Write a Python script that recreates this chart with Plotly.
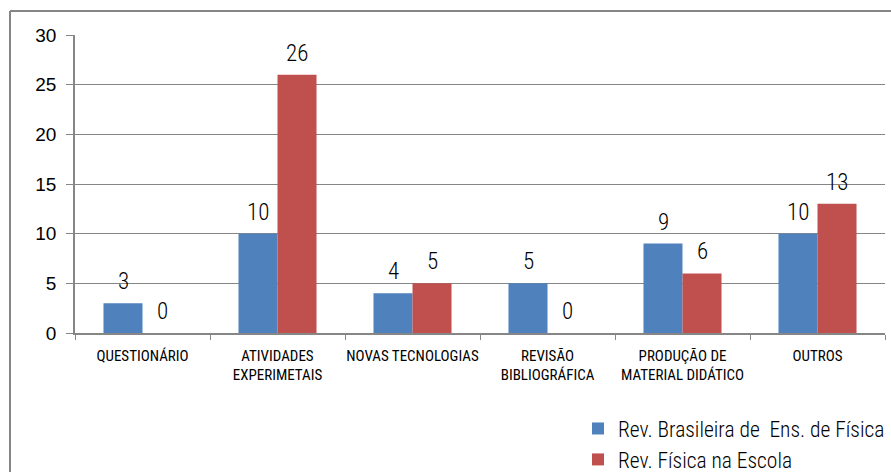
import plotly.graph_objects as go

# Categories and counts per journal
categories = [
    "QUESTIONÁRIO",
    "ATIVIDADES<br>EXPERIMETAIS",
    "NOVAS TECNOLOGIAS",
    "REVISÃO<br>BIBLIOGRÁFICA",
    "PRODUÇÃO DE<br>MATERIAL DIDÁTICO",
    "OUTROS",
]
rbef_counts = [3, 10, 4, 5, 9, 10]
fne_counts = [0, 26, 5, 0, 6, 13]
series_names = ["Rev. Brasileira de  Ens. de Física", "Rev. Física na Escola"]
series_colors = ["#4F81BD", "#C0504D"]
y_ticks = [0, 5, 10, 15, 20, 25, 30]

NARROW = "Liberation Sans Narrow, Arial Narrow, Roboto Condensed, sans-serif"
REGULAR = "Liberation Sans, Arial, sans-serif"
GRID = "#868686"

W, H = 891, 472
ML, MR, MT, MB = 75, 6, 35, 139
PW, PH = W - ML - MR, H - MT - MB

fig = go.Figure()
for name, vals, col in zip(series_names, [rbef_counts, fne_counts], series_colors):
    fig.add_trace(go.Bar(
        x=categories, y=vals, name=name,
        marker=dict(color=col, line=dict(width=0)),
    ))

# value labels above each bar
for vals, shift in [(rbef_counts, -19.5), (fne_counts, 19.5)]:
    for c, v in zip(categories, vals):
        fig.add_annotation(
            x=c, y=v, xref="x", yref="y", text=str(v), showarrow=False,
            xshift=shift, yshift=6, yanchor="bottom",
            font=dict(family=NARROW, size=23, color="black", weight=300),
        )

# chart frame (top and left edges visible)
fx0 = (10 - ML) / PW
fy0 = (H - MB - 11) / PH
fig.add_shape(type="line", xref="paper", yref="paper",
              x0=fx0, x1=(W + 5 - ML) / PW, y0=fy0, y1=fy0,
              line=dict(color=GRID, width=2))
fig.add_shape(type="line", xref="paper", yref="paper",
              x0=fx0, x1=fx0, y0=fy0, y1=-(MB + 10) / PH,
              line=dict(color=GRID, width=2))

fig.update_layout(
    width=W, height=H,
    margin=dict(l=ML, r=MR, t=MT, b=MB, autoexpand=False),
    paper_bgcolor="white", plot_bgcolor="white",
    barmode="group", bargap=0.422, bargroupgap=0,
    showlegend=True,
    legend=dict(
        x=1 + (MR - 1) / PW, y=-(MB + 8) / PH,
        xanchor="right", yanchor="bottom",
        font=dict(family=NARROW, size=21.5, color="black", weight=300),
        bgcolor="rgba(0,0,0,0)", itemwidth=30,
    ),
    xaxis=dict(
        tickson="boundaries", ticks="outside", ticklen=5, tickcolor=GRID,
        showline=True, linecolor=GRID, linewidth=1.5,
        tickfont=dict(family=NARROW, size=15, color="black"),
        showgrid=False, tickangle=0, ticklabelstandoff=8,
    ),
    yaxis=dict(
        range=[0, 30], tickvals=y_ticks, ticks="outside", ticklen=7,
        tickcolor=GRID, showline=True, linecolor=GRID, linewidth=1.5,
        gridcolor=GRID, gridwidth=1, zeroline=False, ticklabelstandoff=6,
        tickfont=dict(family=REGULAR, size=19, color="black"),
    ),
)

fig.write_html("out.html")
